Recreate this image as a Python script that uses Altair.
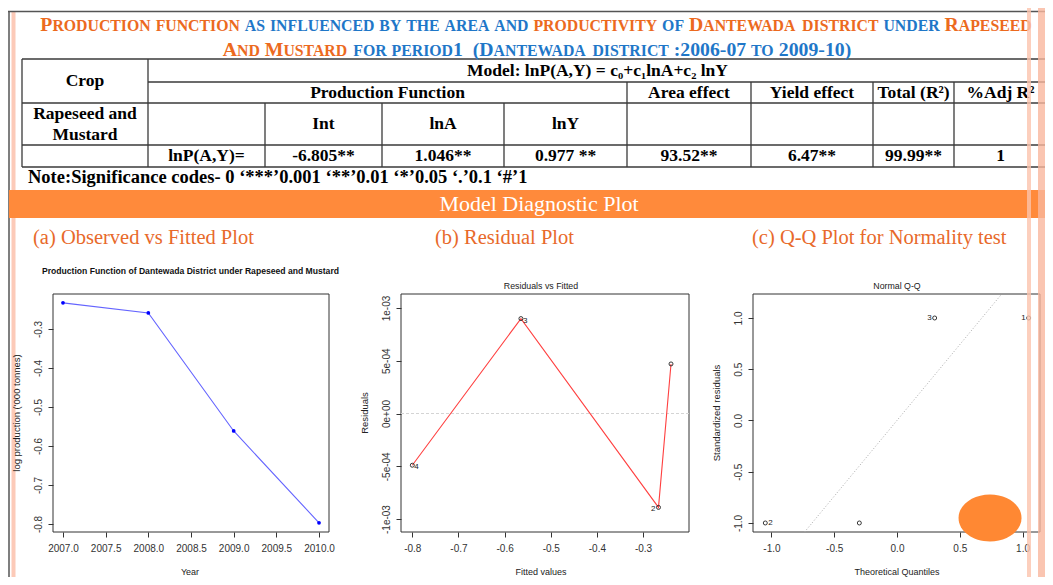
import altair as alt
import pandas as pd

# ================= chart values =================
years = [2007, 2008, 2009, 2010]
log_production = [-0.233, -0.259, -0.5615, -0.797]

obs_id = ["1", "2", "3", "4"]
fitted_values = [-0.2394, -0.2665, -0.5646, -0.8000]
residual_values = [0.00047, -0.00089, 0.00090, -0.00049]
resid_id_label = ["", "2", "3", "4"]

theoretical_quantiles = [1.049, -1.049, 0.300, -0.300]
standardized_residuals = [1.0, -1.0, 1.0, -1.0]
qq_id_label = ["1", "2", "3", ""]
qq_ref_x = [-0.736, 0.834]
qq_ref_y = [-1.088, 1.234]
qq_highlight_x = [0.741]
qq_highlight_y = [-0.951]

a_x_ticks = [2007.0, 2007.5, 2008.0, 2008.5, 2009.0, 2009.5, 2010.0]
a_y_ticks = [-0.8, -0.7, -0.6, -0.5, -0.4, -0.3]
b_x_ticks = [-0.8, -0.7, -0.6, -0.5, -0.4, -0.3]
b_y_ticks = [-0.001, -0.0005, 0.0, 0.0005, 0.001]
b_y_tick_labels = ["-1e-03", "-5e-04", "0e+00", "5e-04", "1e-03"]
c_ticks = [-1.0, -0.5, 0.0, 0.5, 1.0]

# ================= texts =================
TITLE_ORANGE = "#EC6A1E"
TITLE_BLUE = "#1F77C8"
title_line1 = [("Production function", TITLE_ORANGE),
               (" as influenced by the area and ", TITLE_BLUE),
               ("productivity", TITLE_ORANGE),
               (" of ", TITLE_BLUE),
               ("Dantewada district", TITLE_ORANGE),
               (" under ", TITLE_BLUE),
               ("Rapeseed", TITLE_ORANGE)]
title_line2 = [("And Mustard", TITLE_ORANGE),
               (" for period1  (Dantewada district :2006-07 to 2009-10)", TITLE_BLUE)]

crop_header = "Crop"
model_text = "Model: lnP(A,Y) = c\u2080+c\u2081lnA+c\u2082 lnY"
row2_headers = ["Production Function", "Area effect", "Yield  effect", "Total (R\u00b2)", "%Adj R\u00b2"]
crop_name = ["Rapeseed and", "Mustard"]
coef_headers = ["Int", "lnA", "lnY"]
estimate_row = ["lnP(A,Y)=", "-6.805**", "1.046**", "0.977 **", "93.52**", "6.47**", "99.99**", "1"]
note_text = "Note:Significance codes- 0 \u2018***\u20190.001 \u2018**\u20190.01 \u2018*\u20190.05 \u2018.\u20190.1 \u2018#\u20191"
band_text = "Model Diagnostic Plot"
panel_subtitles = ["(a) Observed vs Fitted Plot", "(b) Residual Plot", "(c) Q-Q Plot for Normality test"]
plot_titles = ["Production Function of Dantewada District under Rapeseed and Mustard",
               "Residuals vs Fitted", "Normal Q-Q"]
x_titles = ["Year", "Fitted values", "Theoretical Quantiles"]
y_titles = ["log production ('000 tonnes)", "Residuals", "Standardized residuals"]

# ================= layout (page pixels) =================
W, H = 1037, 569
OFF = 8
SERIF = "Liberation Serif, Times New Roman, serif"
SANS = "Liberation Sans, Arial, sans-serif"
SUB_ORANGE = "#E8692A"
BAND = "#FF8A3B"
PINK = "#FCCAB8"
LINE = "#3a3a3a"

col_edges = [22, 148, 265, 382, 504, 627, 751, 873, 954, 1047]
row_edges = [59, 82, 103, 145, 167]

boxes = [dict(x0=53, x1=329, y0=294, y1=532),
         dict(x0=401, x1=689, y0=294, y1=532),
         dict(x0=753, x1=1040, y0=294, y1=532)]
a_xdom, a_ydom = [2006.883, 2010.117], [-0.8205, -0.2103]
b_xdom, b_ydom = [-0.8245, -0.2004], [-0.001123, 0.001133]
c_xdom, c_ydom = [-1.147, 1.139], [-1.088, 1.234]

PX = alt.Scale(domain=[OFF, OFF + W], range=[0, W], nice=False, zero=False)
PY = alt.Scale(domain=[OFF, OFF + H], range=[0, H], nice=False, zero=False)


def px(f):
    return alt.X(f + ":Q", scale=PX, axis=None)


def py(f):
    return alt.Y(f + ":Q", scale=PY, axis=None)


# Times Bold advance widths (metric compatible with Liberation Serif Bold)
TB = {c: w for c, w in zip("ABCDEFGHIJKLMNOPQRSTUVWXYZ",
                            [722, 667, 722, 722, 667, 611, 778, 778, 389, 500, 778, 667, 944,
                             722, 778, 611, 778, 722, 556, 667, 722, 722, 1000, 722, 722, 667])}
TB.update({d: 500 for d in "0123456789"})
TB.update({" ": 250, "(": 333, ")": 333, ":": 333, "-": 333, ".": 250, ",": 250})


def title_runs(segments, center, baseline, F, small=0.8):
    chars = []
    for text, color in segments:
        for ch in text:
            if ch.islower():
                chars.append((ch.upper(), F * small, color))
            else:
                chars.append((ch, F, color))
    total = sum(TB.get(c, 500) * s / 1000 for c, s, _ in chars)
    x = center - total / 2
    runs, cur = [], None
    for c, s, col in chars:
        w = TB.get(c, 500) * s / 1000
        if c == " ":
            cur = None
            x += w
            continue
        if cur is not None and cur["size"] == s and cur["color"] == col:
            cur["t"] += c
        else:
            cur = dict(x=x, y=baseline, t=c, size=s, color=col)
            runs.append(cur)
        x += w
    return runs


def text_layer(df, size, color, font=SERIF, weight="bold", align="center",
               baseline="middle", angle=0):
    kw = dict(font=font, fontSize=size, fontWeight=weight, color=color,
              align=align, baseline=baseline)
    if angle:
        kw["angle"] = angle
    return alt.Chart(pd.DataFrame(df)).mark_text(**kw).encode(
        x=px("x"), y=py("y"), text="t:N")


def rect_layer(rows, color, opacity=1.0):
    return alt.Chart(pd.DataFrame(rows)).mark_rect(color=color, opacity=opacity).encode(
        x=px("x"), x2="x2:Q", y=py("y"), y2="y2:Q")


def rule_layer(rows, color, width):
    return alt.Chart(pd.DataFrame(rows)).mark_rule(color=color, strokeWidth=width).encode(
        x=px("x"), x2="x2:Q", y=py("y"), y2="y2:Q")


# ---------- header (slide) ----------
L, R, T, B = col_edges[0], col_edges[-1], row_edges[0], row_edges[-1]
segs = [(L, T, R, T), (L, B, R, B), (L, T, L, B), (R, T, R, B),
        (col_edges[1], row_edges[1], R, row_edges[1]),
        (L, row_edges[2], R, row_edges[2]), (L, row_edges[3], R, row_edges[3]),
        (col_edges[1], T, col_edges[1], B)]
segs += [(c, row_edges[2], c, B) for c in col_edges[2:5]]
segs += [(c, row_edges[1], c, B) for c in col_edges[5:9]]
table_lines = [dict(x=a, y=b, x2=c, y2=d) for a, b, c, d in segs]


def cc(i):
    return (col_edges[i] + col_edges[i + 1]) / 2


rc = [(row_edges[i] + row_edges[i + 1]) / 2 for i in range(4)]
table_texts = [dict(x=cc(0), y=(row_edges[0] + row_edges[2]) / 2, t=crop_header),
               dict(x=(col_edges[1] + R) / 2, y=rc[0], t=model_text),
               dict(x=(col_edges[1] + col_edges[5]) / 2, y=rc[1], t=row2_headers[0])]
table_texts += [dict(x=cc(5 + i), y=rc[1], t=h) for i, h in enumerate(row2_headers[1:])]
table_texts += [dict(x=cc(0), y=114, t=crop_name[0]), dict(x=cc(0), y=135, t=crop_name[1])]
table_texts += [dict(x=cc(2 + i), y=rc[2], t=h) for i, h in enumerate(coef_headers)]
table_texts += [dict(x=cc(1 + i), y=rc[3], t=v) for i, v in enumerate(estimate_row)]

runs = title_runs(title_line1, 536, 31, 19.75) + title_runs(title_line2, 537, 55.5, 19.75)
title_chart = alt.Chart(pd.DataFrame(runs)).mark_text(
    font=SERIF, fontWeight="bold", align="left", baseline="alphabetic").encode(
    x=px("x"), y=py("y"), text="t:N",
    size=alt.Size("size:Q", scale=None), color=alt.Color("color:N", scale=None))

header = alt.layer(
    rect_layer([dict(x=11.5, x2=15.5, y=11, y2=OFF + H)], PINK),
    rule_layer([dict(x=OFF, x2=OFF + W, y=11.5, y2=11.5),
                dict(x=9, x2=9, y=11, y2=OFF + H)], "#555555", 1.5),
    rect_layer([dict(x=9, x2=OFF + W, y=190, y2=218)], BAND),
    rule_layer(table_lines, LINE, 1.3),
    title_chart,
    text_layer(table_texts, 17.5, "black"),
    text_layer([dict(x=28, y=177, t=note_text)], 18.5, "black", align="left"),
    text_layer([dict(x=539, y=210.5, t=band_text)], 22, "white", weight="normal",
               baseline="alphabetic"),
    text_layer([dict(x=x, y=243.5, t=t) for x, t in zip([33, 435, 752], panel_subtitles)],
               20.5, SUB_ORANGE, weight="normal", align="left", baseline="alphabetic"),
    text_layer([dict(x=190.5, y=271, t=plot_titles[0])], 8.6, "#111111", font=SANS),
    text_layer([dict(x=541, y=286, t=plot_titles[1]), dict(x=897, y=286, t=plot_titles[2])],
               8.8, "#222222", font=SANS, weight="normal"),
    text_layer([dict(x=x, y=572, t=t) for x, t in zip([190, 541, 897], x_titles)],
               9, "#222222", font=SANS, weight="normal"),
    text_layer([dict(x=x, y=413, t=t) for x, t in zip([17, 365, 717], y_titles)],
               9.5, "#222222", font=SANS, weight="normal", angle=270),
)

# ---------- R-style panels ----------
MINUS = "\u2212"


def fmt_expr(fmt):
    return f"replace(format(datum.value, '{fmt}'), '{MINUS}', '-')"


def lookup_expr(vals, labels):
    e = "''"
    for v, l in zip(vals, labels):
        e = f"abs(datum.value - ({v})) < 1e-7 ? '{l}' : " + e
    return e


def x_axis(values, expr):
    return alt.Axis(orient="bottom", values=values, labelExpr=expr,
                    offset=(532 - OFF) - H, domain=False,
                    grid=False, ticks=True, tickSize=5, tickColor="#333333", tickWidth=1,
                    labelFont=SANS, labelFontSize=10, labelColor="#333333",
                    labelPadding=6, labelFlush=False, labelOverlap=False, labelBound=False,
                    title=None)


def y_axis(values, expr, box):
    return alt.Axis(orient="left", values=values, labelExpr=expr,
                    offset=-(box["x0"] - OFF), domain=False,
                    grid=False, ticks=True, tickSize=5, tickColor="#333333", tickWidth=1,
                    labelFont=SANS, labelFontSize=10, labelColor="#333333",
                    labelAngle=270, labelAlign="center", labelBaseline="bottom",
                    labelPadding=5, labelFlush=False, labelOverlap=False, labelBound=False,
                    title=None)


def scales(box, xdom, ydom):
    xs = alt.Scale(domain=xdom, range=[box["x0"] - OFF, box["x1"] - OFF], nice=False, zero=False)
    ys = alt.Scale(domain=ydom, range=[box["y1"] - OFF, box["y0"] - OFF], nice=False, zero=False)
    return xs, ys


def frame(xs, ys, xa, ya, xdom, ydom):
    df = pd.DataFrame(dict(x=[xdom[0]], x2=[xdom[1]], y=[ydom[0]], y2=[ydom[1]]))
    return alt.Chart(df).mark_rect(fillOpacity=0, stroke="#333333", strokeWidth=1).encode(
        x=alt.X("x:Q", scale=xs, axis=xa), x2="x2:Q",
        y=alt.Y("y:Q", scale=ys, axis=ya), y2="y2:Q")


# panel (a)
xs, ys = scales(boxes[0], a_xdom, a_ydom)
xa = x_axis(a_x_ticks, fmt_expr(".1f"))
ya = y_axis(a_y_ticks, fmt_expr(".1f"), boxes[0])
dfa = pd.DataFrame(dict(x=years, y=log_production))
plot_a = alt.layer(
    frame(xs, ys, xa, ya, a_xdom, a_ydom),
    alt.Chart(dfa).mark_line(color="#6464ff", strokeWidth=1.1).encode(
        x=alt.X("x:Q", scale=xs, axis=xa), y=alt.Y("y:Q", scale=ys, axis=ya)),
    alt.Chart(dfa).mark_point(filled=True, size=14, color="#0000ff", opacity=1).encode(
        x=alt.X("x:Q", scale=xs, axis=xa), y=alt.Y("y:Q", scale=ys, axis=ya)),
)

# panel (b)
xs, ys = scales(boxes[1], b_xdom, b_ydom)
xa = x_axis(b_x_ticks, fmt_expr(".1f"))
ya = y_axis(b_y_ticks, lookup_expr(b_y_ticks, b_y_tick_labels), boxes[1])
dfb = pd.DataFrame(dict(x=fitted_values, y=residual_values, id=obs_id, lab=resid_id_label))
zero_df = pd.DataFrame(dict(x=[b_xdom[0]], x2=[b_xdom[1]], y=[0.0]))
enc_b = dict(x=alt.X("x:Q", scale=xs, axis=xa), y=alt.Y("y:Q", scale=ys, axis=ya))
lab_b = dfb[dfb.lab != ""]
plot_b = alt.layer(
    frame(xs, ys, xa, ya, b_xdom, b_ydom),
    alt.Chart(zero_df).mark_rule(color="#d4d4d4", strokeDash=[3, 2], strokeWidth=1).encode(
        x2="x2:Q", **enc_b),
    alt.Chart(dfb).mark_line(color="#ff4040", strokeWidth=1.1).encode(
        order=alt.Order("x:Q"), **enc_b),
    alt.Chart(dfb).mark_point(shape="circle", size=16, color="#222222", strokeWidth=0.9,
                              opacity=1).encode(**enc_b),
    alt.Chart(lab_b[lab_b.x < -0.5]).mark_text(
        align="left", dx=2, dy=2, font=SANS, fontSize=8, color="#222222").encode(
        text="lab:N", **enc_b),
    alt.Chart(lab_b[lab_b.x >= -0.5]).mark_text(
        align="right", dx=-3, dy=2, font=SANS, fontSize=8, color="#222222").encode(
        text="lab:N", **enc_b),
)

# panel (c)
xs, ys = scales(boxes[2], c_xdom, c_ydom)
xa = x_axis(c_ticks, fmt_expr(".1f"))
ya = y_axis(c_ticks, fmt_expr(".1f"), boxes[2])
enc_c = dict(x=alt.X("x:Q", scale=xs, axis=xa), y=alt.Y("y:Q", scale=ys, axis=ya))
dfc = pd.DataFrame(dict(x=theoretical_quantiles, y=standardized_residuals, lab=qq_id_label))
lab_c = dfc[dfc.lab != ""]
ELLIPSE = "M-1,0A1,0.746,0,1,0,1,0A1,0.746,0,1,0,-1,0Z"
plot_c = alt.layer(
    frame(xs, ys, xa, ya, c_xdom, c_ydom),
    alt.Chart(pd.DataFrame(dict(x=qq_ref_x, y=qq_ref_y))).mark_line(
        color="#aaaaaa", strokeDash=[1, 2], strokeWidth=1).encode(**enc_c),
    alt.Chart(dfc).mark_point(shape="circle", size=16, color="#222222", strokeWidth=0.9,
                              opacity=1).encode(**enc_c),
    alt.Chart(lab_c[lab_c.x < 0]).mark_text(
        align="left", dx=3, dy=0, baseline="middle", font=SANS, fontSize=8,
        color="#222222").encode(text="lab:N", **enc_c),
    alt.Chart(lab_c[lab_c.x >= 0]).mark_text(
        align="right", dx=-3, dy=0, baseline="middle", font=SANS, fontSize=8,
        color="#222222").encode(text="lab:N", **enc_c),
    alt.Chart(pd.DataFrame(dict(x=qq_highlight_x, y=qq_highlight_y))).mark_point(
        shape=ELLIPSE, size=3969, filled=True, color="#FF8833", opacity=1).encode(**enc_c),
)

# ---------- overlay stripes on the right edge ----------
overlay = alt.layer(
    rect_layer([dict(x=1027, x2=1031, y=OFF, y2=OFF + H)], "#FBC3AD", 0.8),
    rect_layer([dict(x=1038, x2=OFF + W, y=OFF, y2=OFF + H)], "#F9B79D", 0.8),
)

chart = alt.layer(header, plot_a, plot_b, plot_c, overlay).resolve_scale(
    x="independent", y="independent"
).properties(
    width=W, height=H, padding=0, autosize=alt.AutoSizeParams(type="none")
).configure_view(stroke=None)

chart.save("out.html", embed_options={"renderer": "svg", "actions": False})
